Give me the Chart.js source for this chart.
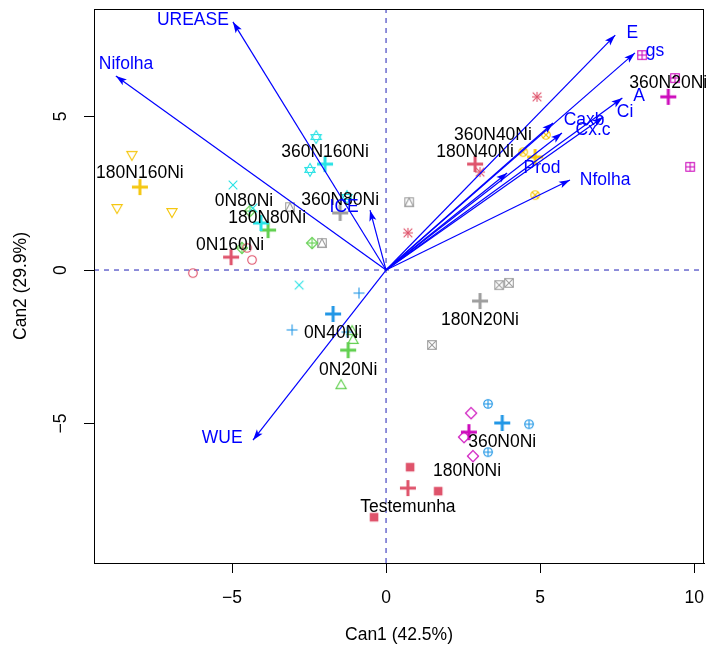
<!DOCTYPE html>
<html>
<head>
<meta charset="utf-8">
<script src="https://cdn.jsdelivr.net/npm/chart.js@4.4.0/dist/chart.umd.min.js"></script>
<style>
  html, body { margin: 0; padding: 0; background: #fff; overflow: hidden; }
  #wrap { width: 706px; height: 649px; overflow: hidden; }
</style>
</head>
<body>
<div id="wrap"><canvas id="chart" width="710" height="650"></canvas></div>
<script>
// canonical discriminant plot - Can1 vs Can2
const X_TICKS = [-5, 0, 5, 10];
const Y_TICKS = [-5, 0, 5];
const X_RANGE = [-9.48, 10.32];
const Y_RANGE = [-9.54, 8.5];

const GROUPS = ['0N160Ni', '0N20Ni', '0N40Ni', '0N80Ni', '180N0Ni', '180N160Ni', '180N20Ni',
    '180N40Ni', '180N80Ni', '360N0Ni', '360N160Ni', '360N20Ni', '360N40Ni', '360N80Ni', 'Testemunha'];

// scores of the 3 replicates of each group
const SCORE_X = [
    [-6.27, -4.35, -4.51],
    [-1.46, -1.07, -1.10],
    [-0.88, -3.05, -1.27],
    [-4.97, -2.82, -4.32],
    [2.76, 2.53, 2.82],
    [-8.25, -8.73, -6.95],
    [3.67, 3.99, 1.49],
    [4.90, 0.71, 3.05],
    [-4.42, -4.68, -2.40],
    [3.31, 4.64, 3.31],
    [-2.27, -2.47, -1.27],
    [8.31, 9.38, 9.87],
    [5.19, 4.45, 4.84],
    [-3.12, -2.08, 0.75],
    [0.78, 1.69, -0.39]
];
const SCORE_Y = [
    [-0.10, 0.33, 0.72],
    [-3.75, -2.28, -1.99],
    [-0.75, -1.95, -2.02],
    [2.77, -0.49, 2.02],
    [-4.66, -5.44, -6.06],
    [3.75, 2.02, 1.89],
    [-0.49, -0.42, -2.44],
    [5.64, 1.21, 3.19],
    [1.92, 0.72, 0.88],
    [-4.36, -5.02, -5.93],
    [4.33, 3.26, 2.38],
    [7.00, 6.25, 3.36],
    [4.40, 3.84, 2.44],
    [2.05, 0.88, 2.21],
    [-6.42, -7.20, -8.05]
];
// group means
const MEAN_X = [-5.03, -1.23, -1.72, -4.06, 2.69, -7.99, 3.05, 2.89, -3.83, 3.77, -1.98, 9.16, 4.84, -1.49, 0.71];
const MEAN_Y = [0.42, -2.61, -1.43, 1.53, -5.28, 2.70, -1.01, 3.45, 1.30, -4.98, 3.45, 5.64, 3.68, 1.86, -7.10];

// structure vectors
const VARIABLES = ['UREASE', 'Nifolha', 'ICE', 'WUE', 'E', 'gs', 'A', 'Ci', 'Caxb', 'Cx.c', 'Prod', 'Nfolha'];
const VAR_X = [-4.97, -8.77, -0.52, -4.32, 7.44, 8.08, 7.67, 7.05, 5.42, 5.71, 3.93, 5.97];
const VAR_Y = [8.08, 6.32, 1.95, -5.54, 7.65, 7.07, 5.60, 4.98, 4.79, 4.46, 3.16, 2.93];

// where the text labels sit (data units)
const GROUP_LABEL_POS = [
    [-5.06, 0.81], [-1.23, -3.26], [-1.72, -2.05], [-4.61, 2.25], [2.63, -6.55],
    [-7.99, 3.16], [3.05, -1.63], [2.89, 3.84], [-3.86, 1.69], [3.77, -5.60],
    [-1.98, 3.84], [9.16, 6.09], [3.47, 4.40], [-1.49, 2.28], [0.71, -7.72]
];
const VAR_LABEL_POS = [
    [-6.27, 8.14], [-8.44, 6.71], [-1.36, 2.05], [-5.32, -5.47], [7.99, 7.72], [8.73, 7.13],
    [8.21, 5.67], [7.76, 5.15], [6.43, 4.89], [6.72, 4.56], [5.06, 3.32], [7.11, 2.93]
];

const COLORS = ['#DF536B', '#61D04F', '#2297E6', '#28E2E5', '#CD0BBC', '#F5C710', '#9E9E9E'];
const FONT = '17.5px "Liberation Sans", Arial, sans-serif';

// R-like plotting symbols (pch 1..15)
function makeSymbol(pch, color) {
    const size = 16;
    const c = document.createElement('canvas');
    c.width = c.height = size;
    const g = c.getContext('2d');
    g.translate(size / 2, size / 2);
    g.strokeStyle = color;
    g.fillStyle = color;
    g.lineWidth = 1.1;
    const r = 4.3;
    const line = (x1, y1, x2, y2) => { g.beginPath(); g.moveTo(x1, y1); g.lineTo(x2, y2); g.stroke(); };
    const poly = (pts) => {
        g.beginPath();
        pts.forEach((p, i) => i ? g.lineTo(p[0], p[1]) : g.moveTo(p[0], p[1]));
        g.closePath();
        g.stroke();
    };
    const circle = () => { g.beginPath(); g.arc(0, 0, r, 0, Math.PI * 2); g.stroke(); };
    const square = () => g.strokeRect(-r, -r, 2 * r, 2 * r);
    const tu = 5.6, tri = [[0, -tu], [tu * 0.92, tu * 0.6], [-tu * 0.92, tu * 0.6]];
    const triDown = tri.map(p => [p[0], -p[1]]);
    const d = 5.6, diamond = [[0, -d], [d, 0], [0, d], [-d, 0]];
    switch (pch) {
        case 1: circle(); break;
        case 2: poly(tri); break;
        case 3: line(-5.5, 0, 5.5, 0); line(0, -5.5, 0, 5.5); break;
        case 4: line(-r, -r, r, r); line(-r, r, r, -r); break;
        case 5: poly(diamond); break;
        case 6: poly(triDown); break;
        case 7: square(); line(-r, -r, r, r); line(-r, r, r, -r); break;
        case 8: line(-5, 0, 5, 0); line(0, -5, 0, 5); line(-r, -r, r, r); line(-r, r, r, -r); break;
        case 9: poly(diamond); line(-d, 0, d, 0); line(0, -d, 0, d); break;
        case 10: circle(); line(-r, 0, r, 0); line(0, -r, 0, r); break;
        case 11: poly(tri.map(p => [p[0], p[1] - 0.8])); poly(triDown.map(p => [p[0], p[1] + 0.8])); break;
        case 12: square(); line(-r, 0, r, 0); line(0, -r, 0, r); break;
        case 13: circle(); line(-3, -3, 3, 3); line(-3, 3, 3, -3); break;
        case 14: square(); poly([[0, -r], [r, r], [-r, r]]); break;
        case 15: g.fillRect(-r, -r, 2 * r, 2 * r); break;
    }
    return c;
}

function makeMeanCross(color) {
    const c = document.createElement('canvas');
    c.width = c.height = 22;
    const g = c.getContext('2d');
    g.strokeStyle = color;
    g.lineWidth = 3;
    g.beginPath();
    g.moveTo(3, 11); g.lineTo(19, 11);
    g.moveTo(11, 3); g.lineTo(11, 19);
    g.stroke();
    return c;
}

const datasets = [];

// dashed reference lines through the origin
datasets.push({
    type: 'line', data: [{ x: 0, y: Y_RANGE[0] }, { x: 0, y: Y_RANGE[1] }],
    borderColor: '#7474d2', borderWidth: 1.6, borderDash: [5, 5], pointRadius: 0, order: 100
});
datasets.push({
    type: 'line', data: [{ x: X_RANGE[0], y: 0 }, { x: X_RANGE[1], y: 0 }],
    borderColor: '#7474d2', borderWidth: 1.6, borderDash: [5, 5], pointRadius: 0, order: 100
});

GROUPS.forEach((name, i) => {
    const color = COLORS[i % COLORS.length];
    datasets.push({
        type: 'scatter', label: name,
        data: SCORE_X[i].map((x, j) => ({ x: x, y: SCORE_Y[i][j] })),
        pointStyle: makeSymbol(i + 1, color), pointRadius: 5, order: 50
    });
    datasets.push({
        type: 'scatter', label: name + ' mean',
        data: [{ x: MEAN_X[i], y: MEAN_Y[i] }],
        pointStyle: makeMeanCross(color), pointRadius: 5, order: 40
    });
});

VARIABLES.forEach((name, i) => {
    datasets.push({
        type: 'line', label: name, isVector: true,
        data: [{ x: 0, y: 0 }, { x: VAR_X[i], y: VAR_Y[i] }],
        borderColor: '#0000FF', borderWidth: 1.2, pointRadius: 0, order: 10
    });
});

const arrowHeads = {
    id: 'arrowHeads',
    afterDatasetsDraw(chart) {
        const ctx = chart.ctx;
        chart.data.datasets.forEach((ds, i) => {
            if (!ds.isVector) return;
            const pts = chart.getDatasetMeta(i).data;
            const a = pts[0], b = pts[1];
            const ang = Math.atan2(b.y - a.y, b.x - a.x);
            ctx.save();
            ctx.translate(b.x, b.y);
            ctx.rotate(ang);
            ctx.beginPath();
            ctx.moveTo(0, 0);
            ctx.lineTo(-11, -3.6);
            ctx.lineTo(-8.5, 0);
            ctx.lineTo(-11, 3.6);
            ctx.closePath();
            ctx.fillStyle = ds.borderColor;
            ctx.fill();
            ctx.restore();
        });
    }
};

const textLayer = {
    id: 'textLayer',
    afterDraw(chart) {
        const ctx = chart.ctx;
        const xs = chart.scales.x, ys = chart.scales.y;
        const area = chart.chartArea;
        ctx.save();
        ctx.font = FONT;
        ctx.textAlign = 'center';
        ctx.textBaseline = 'middle';

        // group labels
        ctx.fillStyle = '#000';
        GROUPS.forEach((name, i) => {
            const p = GROUP_LABEL_POS[i];
            ctx.fillText(name, xs.getPixelForValue(p[0]), ys.getPixelForValue(p[1]));
        });

        // variable labels
        ctx.fillStyle = '#0000FF';
        VARIABLES.forEach((name, i) => {
            const p = VAR_LABEL_POS[i];
            ctx.fillText(name, xs.getPixelForValue(p[0]), ys.getPixelForValue(p[1]));
        });

        // box
        ctx.strokeStyle = '#000';
        ctx.lineWidth = 1;
        ctx.strokeRect(area.left + 0.5, area.top + 0.5, area.right - area.left - 1, area.bottom - area.top);

        // tick labels
        ctx.fillStyle = '#000';
        X_TICKS.forEach(v => {
            ctx.fillText(v < 0 ? '\u2212' + Math.abs(v) : String(v), xs.getPixelForValue(v), 598);
        });
        Y_TICKS.forEach(v => {
            ctx.save();
            ctx.translate(61, ys.getPixelForValue(v));
            ctx.rotate(-Math.PI / 2);
            ctx.fillText(v < 0 ? '\u2212' + Math.abs(v) : String(v), 0, 0);
            ctx.restore();
        });

        // axis titles
        ctx.fillText('Can1 (42.5%)', (area.left + area.right) / 2, 635);
        ctx.save();
        ctx.translate(21, (area.top + area.bottom) / 2);
        ctx.rotate(-Math.PI / 2);
        ctx.fillText('Can2 (29.9%)', 0, 0);
        ctx.restore();
        ctx.restore();
    }
};

const tickGrid = {
    display: true, drawOnChartArea: false, drawTicks: true, tickLength: 10, color: '#000', lineWidth: 1
};

new Chart(document.getElementById('chart'), {
    type: 'scatter',
    data: { datasets: datasets },
    options: {
        responsive: false,
        animation: false,
        devicePixelRatio: 1,
        layout: { padding: { top: 9, right: 2, left: 0, bottom: 0 } },
        plugins: { legend: { display: false }, tooltip: { enabled: false } },
        scales: {
            x: {
                type: 'linear', min: X_RANGE[0], max: X_RANGE[1],
                afterBuildTicks: s => { s.ticks = X_TICKS.map(v => ({ value: v })); },
                afterFit: s => { s.height = 87; },
                ticks: { display: false },
                grid: tickGrid,
                border: { display: true, color: '#000', width: 1 }
            },
            y: {
                type: 'linear', min: Y_RANGE[0], max: Y_RANGE[1],
                afterBuildTicks: s => { s.ticks = Y_TICKS.map(v => ({ value: v })); },
                afterFit: s => { s.width = 94; },
                ticks: { display: false },
                grid: tickGrid,
                border: { display: true, color: '#000', width: 1 }
            }
        }
    },
    plugins: [arrowHeads, textLayer]
});
</script>
</body>
</html>
